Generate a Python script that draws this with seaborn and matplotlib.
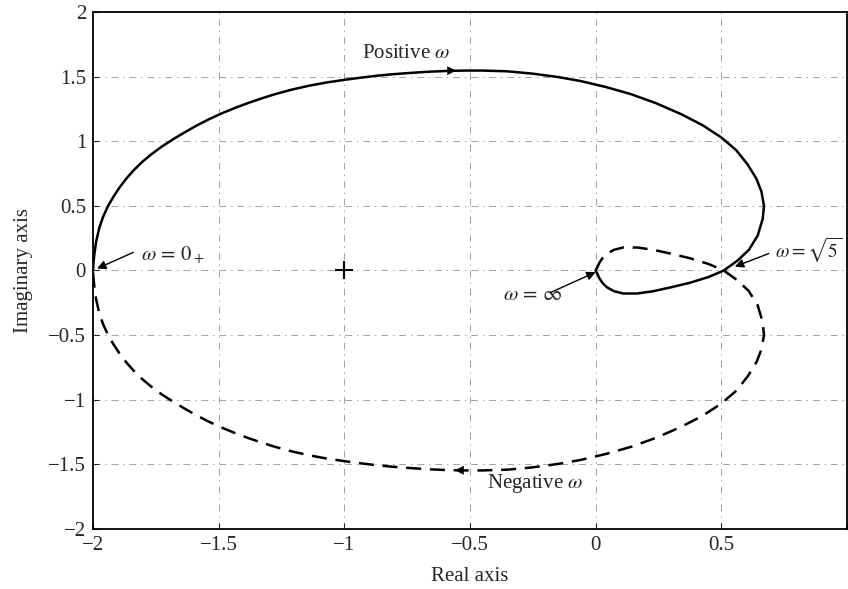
import matplotlib
matplotlib.use("Agg")
import matplotlib.pyplot as plt
import pandas as pd
import seaborn as sns

# Positive-omega branch of the Nyquist curve (omega = 0+ ... +inf)
re_pos = [-2.000, -1.999, -1.995, -1.988, -1.975, -1.960, -1.940, -1.918, -1.895, -1.868,
          -1.840, -1.806, -1.770, -1.727, -1.680, -1.636, -1.590, -1.540, -1.490, -1.435,
          -1.380, -1.330, -1.280, -1.210, -1.140, -1.070, -1.000, -0.935, -0.870, -0.810,
          -0.750, -0.665, -0.580, -0.515, -0.450, -0.350, -0.250, -0.150, -0.060, 0.040,
          0.140, 0.240, 0.340, 0.425, 0.500, 0.560, 0.605, 0.640, 0.660, 0.670,
          0.665, 0.645, 0.610, 0.565, 0.510, 0.450, 0.375, 0.300, 0.230, 0.166,
          0.110, 0.073, 0.045, 0.027, 0.015, 0.008, 0.000]
im_pos = [0.000, 0.040, 0.120, 0.220, 0.330, 0.415, 0.500, 0.573, 0.641, 0.710,
          0.772, 0.837, 0.896, 0.958, 1.017, 1.068, 1.119, 1.169, 1.214, 1.258,
          1.298, 1.331, 1.362, 1.399, 1.430, 1.455, 1.475, 1.492, 1.507, 1.518,
          1.527, 1.538, 1.545, 1.547, 1.547, 1.541, 1.523, 1.497, 1.466, 1.420,
          1.365, 1.295, 1.210, 1.125, 1.030, 0.930, 0.820, 0.710, 0.610, 0.500,
          0.400, 0.270, 0.160, 0.077, 0.000, -0.050, -0.095, -0.130, -0.160, -0.178,
          -0.178, -0.160, -0.130, -0.095, -0.060, -0.030, 0.000]

# Negative-omega branch (omega = -inf ... 0-)
re_neg = [0.000, 0.008, 0.015, 0.027, 0.045, 0.073, 0.110, 0.166, 0.230, 0.300,
          0.375, 0.450, 0.510, 0.565, 0.610, 0.645, 0.665, 0.670, 0.660, 0.640,
          0.605, 0.560, 0.500, 0.425, 0.340, 0.240, 0.140, 0.040, -0.060, -0.150,
          -0.250, -0.350, -0.450, -0.515, -0.580, -0.665, -0.750, -0.810, -0.870, -0.935,
          -1.000, -1.070, -1.140, -1.210, -1.280, -1.330, -1.380, -1.435, -1.490, -1.540,
          -1.590, -1.636, -1.680, -1.727, -1.770, -1.806, -1.840, -1.868, -1.895, -1.918,
          -1.940, -1.960, -1.975, -1.988, -1.995, -1.999, -2.000]
im_neg = [0.000, 0.030, 0.060, 0.095, 0.130, 0.160, 0.178, 0.178, 0.160, 0.130,
          0.095, 0.050, 0.000, -0.077, -0.160, -0.270, -0.400, -0.500, -0.610, -0.710,
          -0.820, -0.930, -1.030, -1.125, -1.210, -1.295, -1.365, -1.420, -1.466, -1.497,
          -1.523, -1.541, -1.547, -1.547, -1.545, -1.538, -1.527, -1.518, -1.507, -1.492,
          -1.475, -1.455, -1.430, -1.399, -1.362, -1.331, -1.298, -1.258, -1.214, -1.169,
          -1.119, -1.068, -1.017, -0.958, -0.896, -0.837, -0.772, -0.710, -0.641, -0.573,
          -0.500, -0.415, -0.330, -0.220, -0.120, -0.040, 0.000]

# Critical point
crit_re = [-1.0]
crit_im = [0.0]

x_ticks = [-2, -1.5, -1, -0.5, 0, 0.5]
x_tick_labels = ["\u22122", "\u22121.5", "\u22121", "\u22120.5", "0", "0.5"]
y_ticks = [-2, -1.5, -1, -0.5, 0, 0.5, 1, 1.5, 2]
y_tick_labels = ["\u22122", "\u22121.5", "\u22121", "\u22120.5", "0", "0.5", "1", "1.5", "2"]

sns.set_style("ticks")
plt.rcParams["font.family"] = ["Liberation Serif", "DejaVu Serif"]
plt.rcParams["mathtext.fontset"] = "stix"

fig = plt.figure(figsize=(8.48, 5.89), dpi=100)
ax = fig.add_axes([0.1097, 0.1019, 0.889, 0.8777])

# grid (dash-dot)
ax.set_xticks(x_ticks + [1])
ax.set_xticklabels(x_tick_labels + [""])
ax.set_yticks(y_ticks)
ax.set_yticklabels(y_tick_labels)
ax.grid(True, color="#8a8a8a", linewidth=0.7, linestyle=(0, (7, 5, 1.5, 5)), alpha=0.8)
ax.set_axisbelow(True)

df_pos = pd.DataFrame({"re": re_pos, "im": im_pos})
df_neg = pd.DataFrame({"re": re_neg, "im": im_neg})
sns.lineplot(data=df_pos, x="re", y="im", sort=False, estimator=None,
             color="black", linewidth=1.8, solid_joinstyle="round", ax=ax)
sns.lineplot(data=df_neg, x="re", y="im", sort=False, estimator=None,
             color="black", linewidth=1.8, linestyle=(0, (6, 3.5)), ax=ax)
sns.scatterplot(x=crit_re, y=crit_im, marker="+", s=180, color="black",
                linewidth=1.5, ax=ax)

ax.set_xlim(-2, 1)
ax.set_ylim(-2, 2)

# direction arrowheads on the curves
dir_pos_tail, dir_pos_head = (-0.63, 1.545), (-0.555, 1.547)
dir_neg_tail, dir_neg_head = (-0.49, -1.547), (-0.56, -1.545)
for tail, head in [(dir_pos_tail, dir_pos_head), (dir_neg_tail, dir_neg_head)]:
    ax.annotate("", xy=head, xytext=tail,
                arrowprops=dict(arrowstyle="-|>", color="black", lw=0.01,
                                mutation_scale=16, shrinkA=0, shrinkB=0))

fs = 15
ax.text(-0.928, 1.676, r"Positive $\omega$", fontsize=fs, ha="left", va="center")
ax.text(-0.434, -1.645, r"Negative $\omega$", fontsize=fs, ha="left", va="center")

arrow_kw = dict(arrowstyle="-|>", color="black", lw=1.0, mutation_scale=13,
                shrinkA=0, shrinkB=0)
ax.text(-1.81, 0.12, r"$\omega\,=\,0_+$", fontsize=fs, ha="left", va="center")
ax.annotate("", xy=(-1.984, 0.015), xytext=(-1.84, 0.14), arrowprops=arrow_kw)
ax.text(0.712, 0.155, r"$\omega = \sqrt{5}$", fontsize=14, ha="left", va="center")
ax.annotate("", xy=(0.554, 0.03), xytext=(0.689, 0.131), arrowprops=arrow_kw)
ax.text(-0.251, -0.193, r"$\omega\,=\,\infty$", fontsize=fs, ha="center", va="center")
ax.annotate("", xy=(0.0, -0.013), xytext=(-0.179, -0.17), arrowprops=arrow_kw)

ax.set_xlabel("Real axis", fontsize=fs, labelpad=9)
ax.set_ylabel("Imaginary axis", fontsize=fs, labelpad=11)
ax.tick_params(direction="in", length=4, width=0.8, labelsize=fs, pad=5,
               top=False, right=False)
for sp in ax.spines.values():
    sp.set_visible(True)
    sp.set_color("black")
    sp.set_linewidth(1.3)

fig.savefig("out.png", dpi=100)
